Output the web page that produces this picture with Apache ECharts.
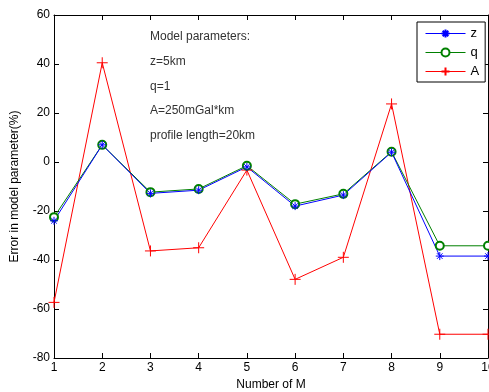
<!DOCTYPE html>
<html>
<head>
<meta charset="utf-8">
<script src="https://cdn.jsdelivr.net/npm/echarts@6/dist/echarts.min.js"></script>
<style>
  html, body { margin: 0; padding: 0; background: #fff; }
  #chart { width: 489px; height: 392px; }
</style>
</head>
<body>
<div id="chart"></div>
<script>
// Number of M
var mValues = [1, 2, 3, 4, 5, 6, 7, 8, 9, 10];
// Error in model parameter (%)
var zError = [-24, 7, -12.8, -11.5, -2, -18, -13.5, 4, -38.4, -38.4];
var qError = [-22.5, 7, -12.3, -11, -1.5, -17.2, -13, 4.2, -34.2, -34.2];
var aError = [-57.3, 40.5, -36.3, -35, -3.3, -47.9, -38.9, 23.7, -70.3, -70.3];
var notes = ['Model parameters:', 'z=5km', 'q=1', 'A=250mGal*km', 'profile length=20km'];

var chart = echarts.init(document.getElementById('chart'));

function pairs(ys) {
  return mValues.map(function (x, i) { return [x, ys[i]]; });
}

var starPath = 'path://M0,-10L0,10M-10,0L10,0M-7,-7L7,7M-7,7L7,-7';
var plusPath = 'path://M0,-10L0,10M-10,0L10,0';
var font = 'Liberation Sans, Arial, sans-serif';

var option = {
  animation: false,
  grid: { left: 54, right: 1, top: 15, bottom: 34, outerBoundsMode: 'none', containLabel: false },
  textStyle: { fontFamily: font },

  legend: {
    orient: 'vertical',
    left: 417,
    top: 22,
    padding: [5, 6, 4, 8],
    itemGap: 6,
    itemWidth: 40,
    itemHeight: 10,
    backgroundColor: '#fff',
    borderColor: '#000',
    borderWidth: 1,
    borderRadius: 0,
    lineStyle: { color: 'inherit', width: 1 },
    textStyle: { fontSize: 13, color: '#000', fontFamily: font },
    data: ['z', 'q', 'A']
  },

  graphic: notes.map(function (t, i) {
    return {
      type: 'text',
      left: 150,
      top: 31 + i * 24.7,
      style: { text: t, fontSize: 12, fill: '#333', fontFamily: font }
    };
  }),

  xAxis: [{
    type: 'value',
    min: 1, max: 10, interval: 1,
    name: 'Number of M',
    nameLocation: 'middle',
    nameGap: 20,
    nameTextStyle: { fontSize: 12, color: '#000' },
    axisLine: { onZero: false, lineStyle: { color: '#000' } },
    axisTick: { inside: true, length: 5, lineStyle: { color: '#000' } },
    axisLabel: { fontSize: 12, color: '#000', margin: 4 },
    splitLine: { show: false }
  }, {
    type: 'value',
    position: 'top',
    min: 1, max: 10, interval: 1,
    axisLine: { onZero: false, lineStyle: { color: '#000' } },
    axisTick: { inside: true, length: 5, lineStyle: { color: '#000' } },
    axisLabel: { show: false },
    splitLine: { show: false }
  }],

  yAxis: [{
    type: 'value',
    min: -80, max: 60, interval: 20,
    name: 'Error in model parameter(%)',
    nameLocation: 'middle',
    nameGap: 33,
    nameTextStyle: { fontSize: 12, color: '#000' },
    axisLine: { show: true, onZero: false, lineStyle: { color: '#000' } },
    axisTick: { show: true, inside: true, length: 5, lineStyle: { color: '#000' } },
    axisLabel: { fontSize: 12, color: '#000', margin: 4 },
    splitLine: { show: false }
  }, {
    type: 'value',
    position: 'right',
    min: -80, max: 60, interval: 20,
    axisLine: { show: true, onZero: false, lineStyle: { color: '#000' } },
    axisTick: { show: true, inside: true, length: 5, lineStyle: { color: '#000' } },
    axisLabel: { show: false },
    splitLine: { show: false }
  }],

  series: [
    {
      name: 'A',
      type: 'line',
      data: pairs(aError),
      symbol: plusPath,
      symbolSize: 11,
      lineStyle: { color: '#ff0000', width: 1 },
      itemStyle: { color: 'rgba(0,0,0,0)', borderColor: '#ff0000', borderWidth: 1 }
    },
    {
      name: 'q',
      type: 'line',
      data: pairs(qError),
      symbol: 'emptyCircle',
      symbolSize: 8,
      lineStyle: { color: '#008000', width: 1 },
      itemStyle: { color: '#008000', borderColor: '#008000', borderWidth: 1 }
    },
    {
      name: 'z',
      type: 'line',
      data: pairs(zError),
      symbol: starPath,
      symbolSize: 8,
      lineStyle: { color: '#0000ff', width: 1 },
      itemStyle: { color: 'rgba(0,0,0,0)', borderColor: '#0000ff', borderWidth: 1 }
    }
  ]
};

chart.setOption(option);
</script>
</body>
</html>
